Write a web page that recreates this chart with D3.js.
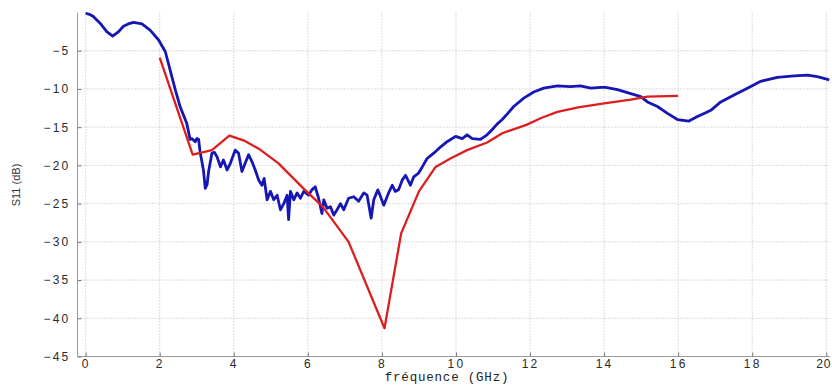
<!DOCTYPE html>
<html><head><meta charset="utf-8">
<script src="https://cdn.jsdelivr.net/npm/d3@7"></script>
<style>
html,body{margin:0;padding:0;background:#fff;}
svg{display:block;}
</style></head>
<body>
<svg id="chart" width="832" height="385"></svg>
<script>
// ---- data ----
const xTicks = [0,2,4,6,8,10,12,14,16,18,20];
const yTicks = [-45,-40,-35,-30,-25,-20,-15,-10,-5];
const xLabel = "fréquence  (GHz)";
const yLabel = "S11 (dB)";

const measuredFreq = [0.0,0.08,0.2,0.39,0.57,0.73,0.89,1.02,1.15,1.29,1.52,1.74,1.97,2.15,2.28,2.42,2.55,2.73,2.82,2.87,2.96,3.0,3.05,3.09,3.18,3.23,3.28,3.32,3.41,3.48,3.55,3.64,3.72,3.82,3.91,4.04,4.13,4.22,4.31,4.40,4.49,4.58,4.67,4.76,4.82,4.90,4.99,5.08,5.17,5.26,5.35,5.44,5.48,5.53,5.62,5.71,5.80,5.89,6.02,6.11,6.20,6.29,6.38,6.43,6.52,6.61,6.70,6.79,6.88,6.97,7.10,7.24,7.37,7.51,7.60,7.71,7.78,7.89,7.98,8.05,8.18,8.28,8.36,8.45,8.55,8.64,8.77,8.86,8.99,9.09,9.22,9.40,9.58,9.76,9.99,10.17,10.30,10.44,10.66,10.84,11.02,11.11,11.25,11.38,11.56,11.83,12.10,12.37,12.74,13.09,13.36,13.64,13.91,14.04,14.36,14.72,14.99,15.17,15.44,15.71,15.98,16.29,16.52,16.70,16.88,17.15,17.51,17.87,18.23,18.68,19.13,19.49,19.76,20.08];
const measuredS11 = [-0.1,-0.2,-0.5,-1.4,-2.5,-3.1,-2.5,-1.8,-1.5,-1.3,-1.5,-2.3,-3.6,-5.1,-7.5,-10.1,-12.3,-14.5,-16.6,-16.5,-16.9,-16.5,-16.6,-18.2,-20.6,-23.0,-22.5,-20.8,-18.4,-18.3,-18.9,-20.2,-19.3,-20.6,-19.7,-18.0,-18.4,-20.8,-19.7,-18.6,-19.5,-20.6,-21.9,-22.6,-21.7,-24.5,-23.4,-24.5,-23.9,-25.8,-25.0,-23.9,-27.1,-23.4,-24.5,-23.6,-24.3,-23.4,-23.9,-23.2,-22.8,-24.3,-26.3,-24.5,-25.6,-25.4,-26.5,-25.8,-25.0,-25.8,-24.3,-24.1,-24.7,-23.6,-23.9,-26.9,-24.5,-23.2,-24.3,-25.2,-23.6,-22.6,-23.4,-23.2,-21.9,-21.3,-22.6,-21.5,-21.0,-20.2,-19.1,-18.4,-17.6,-16.9,-16.2,-16.5,-16.0,-16.5,-16.6,-16.0,-15.1,-14.6,-14.0,-13.3,-12.3,-11.2,-10.4,-9.9,-9.6,-9.7,-9.6,-9.9,-9.8,-9.8,-10.1,-10.6,-11.0,-11.7,-12.3,-13.2,-14.0,-14.2,-13.6,-13.2,-12.8,-11.7,-10.8,-9.9,-9.0,-8.5,-8.3,-8.2,-8.4,-8.8];

const simFreq = [2.0,2.89,3.41,3.88,4.3,4.7,5.2,5.9,6.4,7.1,8.07,8.52,9.0,9.45,9.85,10.3,10.84,11.25,11.9,12.3,12.74,13.3,14.0,14.72,15.17,16.0];
const simS11  = [-5.9,-18.6,-18.0,-16.1,-16.8,-17.9,-19.7,-23.1,-25.4,-30.0,-41.3,-28.9,-23.4,-20.2,-19.1,-18.0,-17.0,-15.8,-14.7,-13.8,-13.0,-12.4,-11.9,-11.4,-11.0,-10.9];

// ---- drawing ----
const svg = d3.select("#chart");
const pL = 77.5, pR = 830, pT = 12.5, pB = 356.5;
const x = d3.scaleLinear().domain([-0.22, 20.1]).range([pL, pR]);
const y = d3.scaleLinear().domain([-45, 0]).range([pB, pT]);

svg.append("defs").append("clipPath").attr("id","clip")
  .append("rect").attr("x",pL).attr("y",pT-3).attr("width",pR-pL+2).attr("height",pB-pT+3);

// grid
const grid = svg.append("g");
grid.selectAll("line.vx").data(xTicks).join("line")
  .attr("x1", d=>x(d)).attr("x2", d=>x(d)).attr("y1", pT).attr("y2", pB)
  .attr("stroke","#b8b8b8").attr("stroke-width",1).attr("stroke-dasharray","1,2");
grid.selectAll("line.hy").data(yTicks.filter(d=>d>-45)).join("line")
  .attr("x1", pL).attr("x2", pR).attr("y1", d=>y(d)).attr("y2", d=>y(d))
  .attr("stroke","#b8b8b8").attr("stroke-width",1).attr("stroke-dasharray","1,2");

// axes
const xAxis = d3.axisBottom(x).tickValues(xTicks).tickSizeInner(-4).tickSizeOuter(0).tickPadding(3);
const yAxis = d3.axisLeft(y).tickValues(yTicks).tickSizeInner(-4).tickSizeOuter(0).tickPadding(9);
const gx = svg.append("g").attr("transform",`translate(0,${pB})`).call(xAxis);
const gy = svg.append("g").attr("transform",`translate(${pL},0)`).call(yAxis);
[gx, gy].forEach(g => {
  g.select(".domain").attr("stroke","#9a9a9a");
  g.selectAll(".tick line").attr("stroke","#777");
  g.selectAll(".tick text").attr("fill","#2a2a2a").attr("font-family","Liberation Sans, Arial, sans-serif")
    .attr("font-size",12).attr("letter-spacing","2.2px");
});
gy.select(".domain").attr("d", `M0,${pT}V${pB}`);
gx.select(".domain").attr("d", `M${pL},0H${pR}`);
gy.selectAll(".tick text").attr("dx","2px");
// keep the last x label inside the picture
gx.selectAll(".tick text").filter(d => d === xTicks[xTicks.length-1])
  .attr("text-anchor","end").attr("letter-spacing","1px").attr("x", 831 - x(xTicks[xTicks.length-1]));

// lines
const lineGen = d3.line().x(d=>x(d[0])).y(d=>y(d[1]));
const measured = d3.zip(measuredFreq, measuredS11);
const sim = d3.zip(simFreq, simS11);
const plot = svg.append("g").attr("clip-path","url(#clip)");
plot.append("path").datum(measured).attr("d", lineGen)
  .attr("fill","none").attr("stroke","#1616b4").attr("stroke-width",2.8).attr("stroke-linejoin","round");
plot.append("path").datum(sim).attr("d", lineGen)
  .attr("fill","none").attr("stroke","#dc1e1e").attr("stroke-width",2.3).attr("stroke-linejoin","round");

// labels
svg.append("text").attr("x", 447).attr("y", 381).attr("text-anchor","middle")
  .attr("font-family","Liberation Mono, Courier New, monospace").attr("font-size",12.5)
  .attr("letter-spacing","0.8px").attr("fill","#222").text(xLabel);
svg.append("text").attr("transform","translate(20,185) rotate(-90)").attr("text-anchor","middle")
  .attr("font-family","Liberation Sans, Arial, sans-serif").attr("font-size",11)
  .attr("fill","#333").text(yLabel);
</script>
</body></html>
